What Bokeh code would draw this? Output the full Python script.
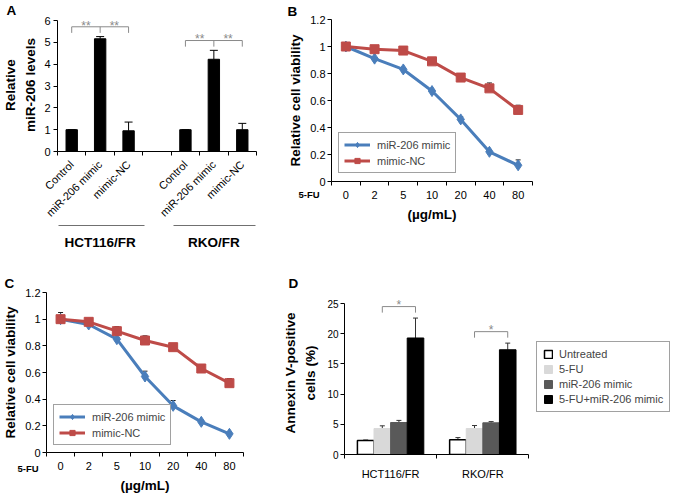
import math
from bokeh.plotting import figure
from bokeh.models import (ColumnDataSource, Range1d, FixedTicker, Whisker, TeeHead,
                          Legend, LegendItem, LinearAxis, Title)
from bokeh.layouts import column, row
from bokeh.embed import file_html
from bokeh.resources import INLINE
from bokeh.core.properties import value

FONT = "Liberation Sans"

# ---------------- data ----------------
a_groups = ["HCT116/FR", "RKO/FR"]
a_conditions = ["Control", "miR-206 mimic", "mimic-NC"]
a_hct_values = [1.0, 5.17, 0.95]
a_hct_errors = [0.0, 0.10, 0.40]
a_rko_values = [1.0, 4.23, 1.00]
a_rko_errors = [0.0, 0.41, 0.29]
a_yticks = [0, 1, 2, 3, 4, 5, 6]

doses = ["0", "2", "5", "10", "20", "40", "80"]
series_names = ["miR-206 mimic", "mimic-NC"]
b_mimic = [1.00, 0.91, 0.83, 0.67, 0.46, 0.22, 0.12]
b_mimic_err = [0.0, 0.0, 0.01, 0.0, 0.02, 0.01, 0.04]
b_nc = [1.00, 0.98, 0.97, 0.89, 0.77, 0.69, 0.53]
b_nc_err = [0.01, 0.01, 0.02, 0.01, 0.02, 0.04, 0.035]
c_mimic = [1.00, 0.96, 0.85, 0.57, 0.35, 0.23, 0.14]
c_mimic_err = [0.01, 0.01, 0.01, 0.04, 0.04, 0.01, 0.01]
c_nc = [1.00, 0.98, 0.91, 0.84, 0.79, 0.63, 0.52]
c_nc_err = [0.05, 0.01, 0.035, 0.035, 0.01, 0.02, 0.035]
viab_ticks = [0, 0.2, 0.4, 0.6, 0.8, 1.0, 1.2]
viab_labels = ["0", "0.2", "0.4", "0.6", "0.8", "1", "1.2"]

d_groups = ["HCT116/FR", "RKO/FR"]
d_treatments = ["Untreated", "5-FU", "miR-206 mimic", "5-FU+miR-206 mimic"]
d_untreated = [2.30, 2.45]
d_untreated_err = [0.10, 0.35]
d_fu = [4.30, 4.30]
d_fu_err = [0.45, 0.50]
d_mimic = [5.30, 5.25]
d_mimic_err = [0.35, 0.20]
d_combo = [19.30, 17.35]
d_combo_err = [3.30, 1.10]
d_yticks = [0, 5, 10, 15, 20, 25]

# ---------------- styles ----------------
BLUE = "#4a7ebb"
RED = "#be4b48"
SIG = "#8a8a8a"
D_FILLS = ["white", "#d9d9d9", "#595959", "black"]
D_LINES = ["black", "#d9d9d9", "#595959", "black"]


def style_axis(ax):
    ax.major_label_text_font = FONT
    ax.major_label_text_font_size = "11px"
    ax.major_label_text_color = "black"
    ax.axis_label_text_font = FONT
    ax.axis_label_text_font_size = "13.5px"
    ax.axis_label_text_font_style = "bold"
    ax.axis_label_text_color = "black"
    ax.axis_line_color = "black"
    ax.major_tick_line_color = "black"
    ax.minor_tick_line_color = "black"


def base_fig(width, height, left, right, top, bottom, x_range, y_range, letter, letter_offset, letter_standoff):
    p = figure(width=width, height=height, x_range=x_range, y_range=y_range,
               output_backend="svg", toolbar_location=None, title=letter,
               min_border_left=left, min_border_right=right,
               min_border_top=top, min_border_bottom=bottom, frame_align=False)
    p.title.align = "left"
    p.title.offset = letter_offset
    p.title.standoff = letter_standoff
    p.title.text_font = FONT
    p.title.text_font_size = "13.5px"
    p.title.text_font_style = "bold"
    p.title.text_color = "black"
    p.xgrid.visible = False
    p.ygrid.visible = False
    p.outline_line_color = None
    p.background_fill_color = "white"
    p.border_fill_color = "white"
    for ax in p.axis:
        style_axis(ax)
    return p


def stars(p, xs, ys, txt, size="12px"):
    p.text(x=xs, y=ys, text=[txt] * len(xs), text_font=value(FONT),
           text_font_size=size, text_color=SIG, text_align="center",
           text_baseline="alphabetic")


TOP_H = 264
BOT_H = 495 - TOP_H

# ---------------- panel A ----------------
slot = len(a_conditions) + 1
pA = base_fig(275, TOP_H, 52, 19, 16, TOP_H - 16 - 135,
              Range1d(0, len(a_groups) * slot - 1), Range1d(0, 6.1), "A", -51, 1)
a_x = [g * slot + i + 0.5 for g in range(len(a_groups)) for i in range(len(a_conditions))]
a_top = a_hct_values + a_rko_values
a_err = a_hct_errors + a_rko_errors
a_up = [t + e for t, e in zip(a_top, a_err)]
srcA = ColumnDataSource(dict(x=a_x, top=a_top, upper=a_up))
pA.vbar(x="x", top="top", width=0.4, source=srcA, color="black")
pA.add_layout(Whisker(source=srcA, base="x", lower="top", upper="upper",
                      lower_head=None, upper_head=TeeHead(size=8, line_width=1),
                      line_width=1, line_color="black"))
xa = pA.xaxis[0]
xa.ticker = FixedTicker(ticks=a_x, minor_ticks=list(range(len(a_groups) * slot)))
xa.major_label_overrides = {x: lab for x, lab in zip(a_x, a_conditions * len(a_groups))}
xa.major_label_orientation = math.pi / 4
xa.major_tick_out = 0
xa.major_tick_in = 0
xa.minor_tick_out = 4
xa.minor_tick_in = 0
xa.major_label_standoff = 7
# group labels with their underline rules
g_centers = [g * slot + len(a_conditions) / 2 for g in range(len(a_groups))]
gax = LinearAxis(ticker=FixedTicker(ticks=g_centers))
style_axis(gax)
gax.major_label_overrides = {c: name for c, name in zip(g_centers, a_groups)}
gax.major_label_text_font_size = "13.5px"
gax.major_label_text_font_style = "bold"
gax.major_label_standoff = 3
gax.major_tick_line_color = None
gax.minor_tick_line_color = None
gax.axis_line_color = "#707070"
gax.axis_line_dash = "86 29"
gax.bounds = (0.05, len(a_groups) * slot - 1.05)
pA.add_layout(gax, "below")

ya = pA.yaxis[0]
ya.bounds = (0, 6)
ya.ticker = FixedTicker(ticks=a_yticks)
ya.major_tick_out = 4
ya.major_tick_in = 0
ya.minor_tick_line_color = None
ya.major_label_standoff = 3
ya.axis_label = "Relative\nmiR-206 levels"
ya.axis_label_standoff = 3
ya.axis_label_text_line_height = 1.35

for g in range(len(a_groups)):
    xs = a_x[g * 3:(g + 1) * 3]
    yb = max(a_up[g * 3:(g + 1) * 3]) + 0.45
    drop = 0.28
    pA.multi_line(xs=[[xs[0], xs[0], xs[2], xs[2]], [xs[1], xs[1]]],
                  ys=[[yb - drop, yb, yb, yb - drop], [yb, yb - drop]],
                  line_color=SIG, line_width=1)
    stars(pA, [(xs[0] + xs[1]) / 2, (xs[1] + xs[2]) / 2], [yb + 0.05] * 2, "**")


# ---------------- panels B, C ----------------
def viability(width, height, borders, mimic, mimic_err, nc, nc_err, let, let_off, let_so,
              fu_offset, fu_standoff, leg_pos):
    left, right, top, bottom = borders
    p = base_fig(width, height, left, right, top, bottom,
                 Range1d(0, len(doses)), Range1d(0, 1.2), let, let_off, let_so)
    x = [i + 0.5 for i in range(len(doses))]
    rends = []
    for vals, errs, col, marker, msize in ((mimic, mimic_err, BLUE, "diamond", 11),
                                           (nc, nc_err, RED, "square", 9)):
        src = ColumnDataSource(dict(x=x, y=vals, up=[v + e for v, e in zip(vals, errs)]))
        ln = p.line("x", "y", source=src, line_color=col, line_width=3)
        p.add_layout(Whisker(source=src, base="x", lower="y", upper="up", lower_head=None,
                             upper_head=TeeHead(size=5, line_width=1, line_color="#222222"),
                             line_width=1, line_color="#222222"))
        sc = p.scatter("x", "y", source=src, marker=marker, size=msize,
                       fill_color=col, line_color=col)
        rends.append([ln, sc])
    leg = Legend(items=[LegendItem(label=n, renderers=r) for n, r in zip(series_names, rends)],
                 location=leg_pos, border_line_color="#444444", border_line_width=1,
                 background_fill_color="white", label_text_font=FONT,
                 label_text_font_size="11px", glyph_width=26, glyph_height=13,
                 label_height=13, label_standoff=7, padding=5, spacing=3, margin=0)
    p.add_layout(leg)
    xa = p.xaxis[0]
    xa.ticker = FixedTicker(ticks=x, minor_ticks=list(range(len(doses) + 1)))
    xa.major_label_overrides = {xi: d for xi, d in zip(x, doses)}
    xa.major_tick_out = 0
    xa.major_tick_in = 0
    xa.minor_tick_out = 4
    xa.minor_tick_in = 0
    xa.major_label_standoff = 5
    xa.axis_label = "(\u00b5g/mL)"
    xa.axis_label_standoff = 5
    # drug label to the left of the dose tick labels
    fu = Title(text="5-FU", align="left", vertical_align="top", offset=fu_offset,
               standoff=fu_standoff, text_font=FONT, text_font_size="9.5px",
               text_font_style="bold", text_color="black")
    p.add_layout(fu, "below")
    ya = p.yaxis[0]
    ya.ticker = FixedTicker(ticks=viab_ticks)
    ya.major_label_overrides = {t: l for t, l in zip(viab_ticks, viab_labels)}
    ya.major_tick_out = 4
    ya.major_tick_in = 0
    ya.minor_tick_line_color = None
    ya.major_label_standoff = 2
    ya.axis_label = "Relative cell viability"
    ya.axis_label_standoff = 4
    return p


pB = viability(399, TOP_H, (56, 142, 19, TOP_H - 19 - 162), b_mimic, b_mimic_err, b_nc, b_nc_err,
               "B", -44, 1, -33, -71, (7, 8))
pC = viability(280, BOT_H, (43, 37, BOT_H - 41 - 162, 41), c_mimic, c_mimic_err, c_nc, c_nc_err,
               "C", -42, 4, -29, -65, (7, 7))

# ---------------- panel D ----------------
d_frame_px = 331
d_axis_px = 185
pD = base_fig(394, BOT_H, 63, 0, BOT_H - 41 - 163, 41,
              Range1d(0, len(d_groups) * d_frame_px / d_axis_px), Range1d(0, 27),
              "D", -56, 1)
d_series = [(d_untreated, d_untreated_err), (d_fu, d_fu_err),
            (d_mimic, d_mimic_err), (d_combo, d_combo_err)]
bw = 0.18
centers = [g + 0.5 for g in range(len(d_groups))]
offsets = [(k - (len(d_treatments) - 1) / 2) * bw for k in range(len(d_treatments))]
d_items = []
d_ups = []
for k, (vals, errs) in enumerate(d_series):
    xs = [c + offsets[k] for c in centers]
    ups = [v + e for v, e in zip(vals, errs)]
    d_ups.append(ups)
    src = ColumnDataSource(dict(x=xs, top=vals, up=ups))
    r = pD.vbar(x="x", top="top", width=bw, source=src, fill_color=D_FILLS[k],
                line_color=D_LINES[k], line_width=1.5 if k == 0 else 1)
    pD.add_layout(Whisker(source=src, base="x", lower="top", upper="up", lower_head=None,
                          upper_head=TeeHead(size=5, line_width=1, line_color="#333333"),
                          line_width=1, line_color="#333333"))
    d_items.append(LegendItem(label=d_treatments[k], renderers=[r]))

for g, c in enumerate(centers):
    x0 = c + offsets[1]
    x1 = c + offsets[3]
    yb = max(d_ups[k][g] for k in (1, 2, 3)) + 1.9
    pD.multi_line(xs=[[x0, x0, x1, x1]], ys=[[yb - 1.0, yb, yb, yb - 1.0]],
                  line_color=SIG, line_width=1)
    stars(pD, [(x0 + x1) / 2], [yb + 0.2], "*")

legD = Legend(items=d_items, location=(192, 42), border_line_color="#444444",
              border_line_width=1, background_fill_color="white", label_text_font=FONT,
              label_text_font_size="11px", glyph_width=10, glyph_height=10,
              label_height=12, label_standoff=6, padding=6, spacing=3, margin=0)
pD.add_layout(legD)
xa = pD.xaxis[0]
xa.bounds = (0, len(d_groups))
xa.ticker = FixedTicker(ticks=centers, minor_ticks=list(range(len(d_groups) + 1)))
xa.major_label_overrides = {c: gname for c, gname in zip(centers, d_groups)}
xa.major_tick_out = 0
xa.major_tick_in = 0
xa.minor_tick_out = 4
xa.minor_tick_in = 0
xa.major_label_standoff = 9
ya = pD.yaxis[0]
ya.bounds = (0, 25)
ya.ticker = FixedTicker(ticks=d_yticks)
ya.major_label_text_font_size = "10px"
ya.major_tick_out = 4
ya.major_tick_in = 0
ya.minor_tick_line_color = None
ya.major_label_standoff = 2
ya.axis_label = "Annexin V-positive\ncells (%)"
ya.axis_label_standoff = 6
ya.axis_label_text_line_height = 1.35

layout = column(row(pA, pB), row(pC, pD))
open("out.html", "w").write(file_html(layout, INLINE))
